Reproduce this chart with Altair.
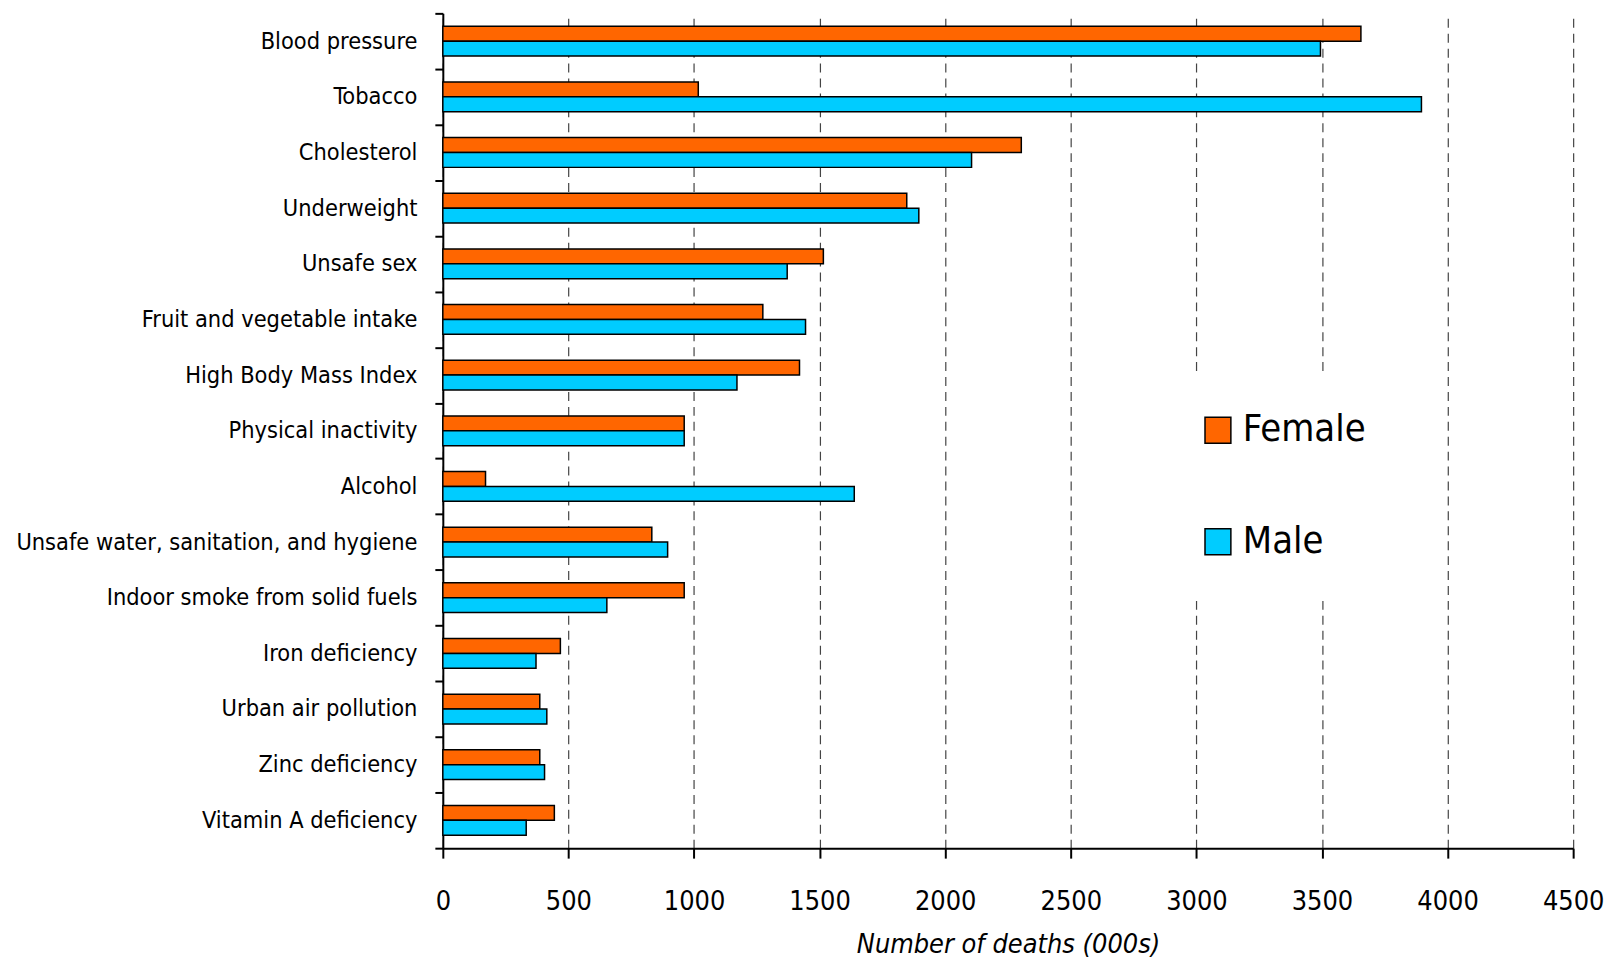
import altair as alt
import pandas as pd

categories = [
    "Blood pressure", "Tobacco", "Cholesterol", "Underweight", "Unsafe sex",
    "Fruit and vegetable intake", "High Body Mass Index", "Physical inactivity",
    "Alcohol", "Unsafe water, sanitation, and hygiene",
    "Indoor smoke from solid fuels", "Iron deficiency", "Urban air pollution",
    "Zinc deficiency", "Vitamin A deficiency",
]
female = [3655, 1017, 2303, 1847, 1515, 1274, 1420, 961, 170, 832, 961, 468, 386, 386, 444]
male = [3494, 3896, 2105, 1895, 1371, 1444, 1171, 961, 1638, 895, 653, 371, 414, 405, 332]
sexes = ["Female", "Male"]
colors = ["#FF6600", "#00CCFF"]
x_ticks = [0, 500, 1000, 1500, 2000, 2500, 3000, 3500, 4000, 4500]

rows = []
for c, f, m in zip(categories, female, male):
    rows.append({"risk": c, "sex": "Female", "deaths": f})
    rows.append({"risk": c, "sex": "Male", "deaths": m})
df = pd.DataFrame(rows)

FONT = "DejaVu Sans Condensed, DejaVu Sans, sans-serif"

chart = alt.Chart(df).mark_bar(stroke="black", strokeWidth=1.5).encode(
    y=alt.Y("risk:N", sort=categories,
            scale=alt.Scale(paddingInner=0, paddingOuter=0),
            axis=alt.Axis(title=None, labelFont=FONT, labelFontSize=23.5,
                          labelColor="black", labelLimit=600, labelPadding=18,
                          tickColor="black", tickWidth=2, tickSize=8,
                          domainColor="black", domainWidth=2,
                          tickBand="extent", grid=False)),
    yOffset=alt.YOffset("sex:N", sort=sexes,
                        scale=alt.Scale(paddingInner=0, paddingOuter=0.87)),
    x=alt.X("deaths:Q",
            scale=alt.Scale(domain=[0, 4500], nice=False),
            axis=alt.Axis(values=x_ticks, format="d", title="Number of deaths (000s)",
                          titleFont=FONT, titleFontSize=27, titleFontStyle="italic",
                          titleFontWeight="normal", titleColor="black", titlePadding=17,
                          labelFont=FONT, labelFontSize=27, labelColor="black",
                          labelPadding=31, labelFlush=False,
                          tickColor="black", tickWidth=2, tickSize=10,
                          domainColor="black", domainWidth=2,
                          grid=True, gridDash=[9, 6], gridColor="#444444",
                          gridWidth=1.2)),
    color=alt.Color("sex:N", sort=sexes,
                    scale=alt.Scale(domain=sexes, range=colors),
                    legend=alt.Legend(title=None, orient="none", legendX=723, legendY=363,
                                      symbolType="square", symbolSize=676,
                                      symbolStrokeColor="black", symbolStrokeWidth=1.5,
                                      labelFont=FONT, labelFontSize=38, labelColor="black",
                                      labelOffset=6, rowPadding=74,
                                      fillColor="white", padding=37)),
).properties(
    width=1136, height=839,
    autosize=alt.AutoSizeParams(type="none"),
    padding={"left": 437, "top": 3, "right": 31, "bottom": 109},
).configure(background="white").configure_view(stroke=None, strokeWidth=0)

chart.save("out.html", embed_options={"renderer": "svg", "actions": False})
